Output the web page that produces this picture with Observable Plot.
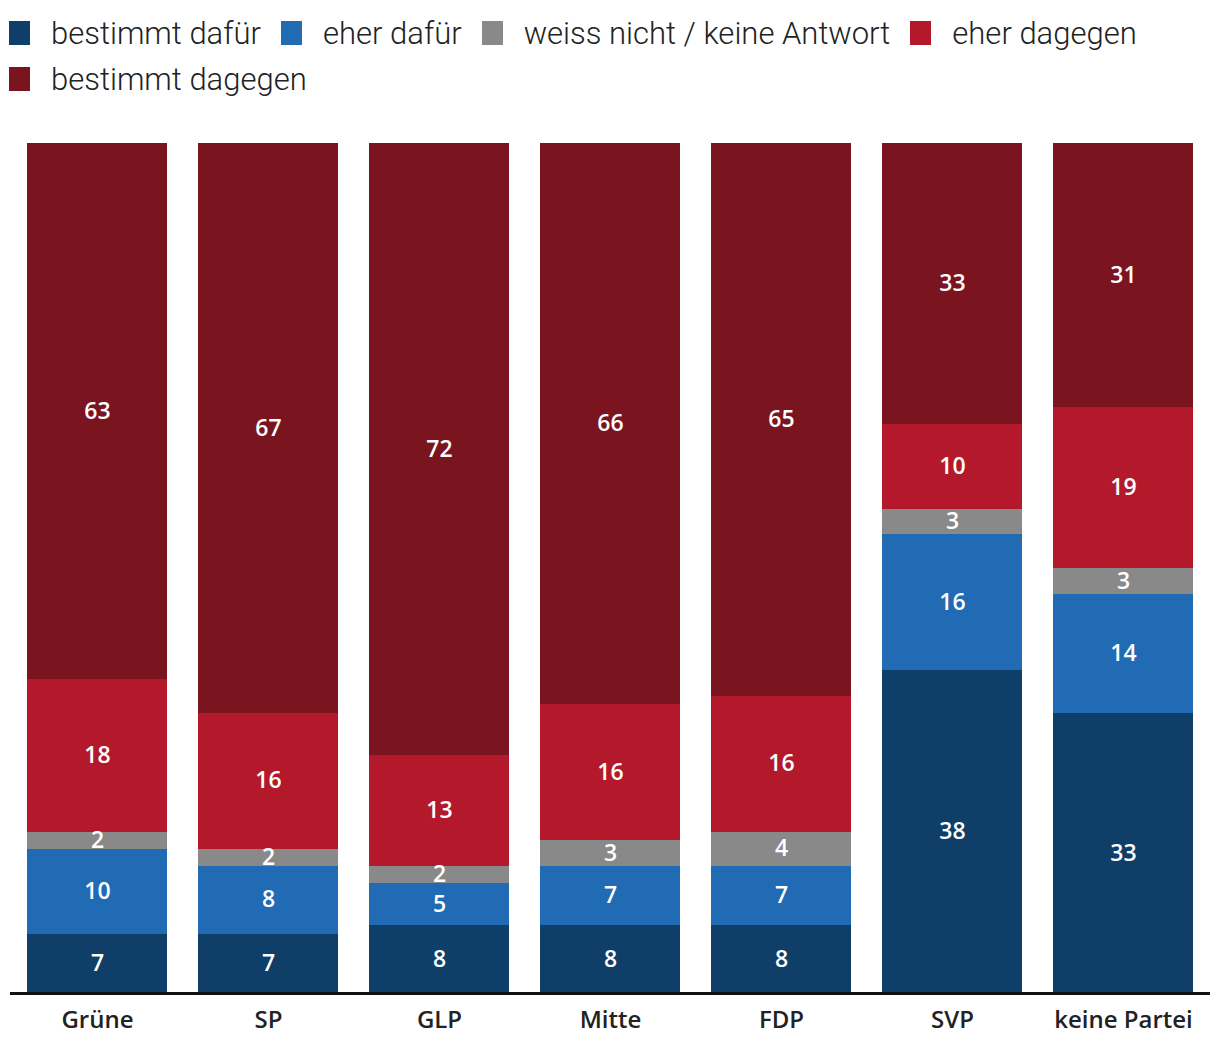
<!DOCTYPE html>
<html>
<head>
<meta charset="utf-8">
<script src="https://cdn.jsdelivr.net/npm/d3@7"></script>
<script src="https://cdn.jsdelivr.net/npm/@observablehq/plot@0.6"></script>
<style>
  body { margin: 0; background: #fff; }
  #legend { height: 110px; box-sizing: border-box; padding: 10px 0 0 9px; font-family: Roboto, "Noto Sans", sans-serif; font-weight: 300; font-size: 31px; color: #222; display: flex; flex-wrap: wrap; align-content: flex-start; width: 1160px; }
  .item { display: flex; align-items: center; height: 46px; margin-right: 20px; }
  .sw { width: 21px; height: 24px; margin-right: 21px; }
  svg text.lbl { text-shadow: 0 0 3px rgba(0,0,0,0.75), 0 0 2px rgba(0,0,0,0.5); }
</style>
</head>
<body>
<div id="legend"></div>
<div id="chart"></div>
<script>
const parties = ["Grüne", "SP", "GLP", "Mitte", "FDP", "SVP", "keine Partei"];
const answers = ["bestimmt dafür", "eher dafür", "weiss nicht / keine Antwort", "eher dagegen", "bestimmt dagegen"];
const colors = ["#0f3e69", "#206bb3", "#898989", "#b3192b", "#7a141f"];
const bestimmtDafuer  = [7, 7, 8, 8, 8, 38, 33];
const eherDafuer      = [10, 8, 5, 7, 7, 16, 14];
const weissNicht      = [2, 2, 2, 3, 4, 3, 3];
const eherDagegen     = [18, 16, 13, 16, 16, 10, 19];
const bestimmtDagegen = [63, 67, 72, 66, 65, 33, 31];

const series = [bestimmtDafuer, eherDafuer, weissNicht, eherDagegen, bestimmtDagegen];
const data = [];
answers.forEach((a, i) => parties.forEach((p, j) => data.push({party: p, answer: a, value: series[i][j]})));

const legend = document.getElementById("legend");
answers.forEach((a, i) => {
  const it = document.createElement("div");
  it.className = "item";
  it.innerHTML = `<span class="sw" style="background:${colors[i]}"></span><span>${a}</span>`;
  legend.appendChild(it);
});

const chart = Plot.plot({
  width: 1220,
  height: 946,
  marginTop: 33,
  marginBottom: 63,
  marginLeft: 10,
  marginRight: 10,
  style: {fontFamily: "'Open Sans', 'Noto Sans', sans-serif"},
  x: {domain: parties, paddingInner: 0.18, paddingOuter: 0.09, label: null},
  y: {domain: [0, 100], axis: null},
  color: {domain: answers, range: colors},
  marks: [
    Plot.barY(data, Plot.stackY({x: "party", y: "value", fill: "answer", order: answers, shapeRendering: "crispEdges"})),
    Plot.text(data, Plot.stackY({x: "party", y: "value", z: "answer", order: answers, text: d => String(d.value), fill: "white", fontSize: 23, fontWeight: 600, className: "lbl"})),
    Plot.ruleY([0], {stroke: "#111", strokeWidth: 3}),
    Plot.axisX({tickSize: 0, tickPadding: 17, fontSize: 24, fontWeight: 600, fill: "#222", label: null})
  ]
});
document.getElementById("chart").appendChild(chart);
</script>
</body>
</html>
